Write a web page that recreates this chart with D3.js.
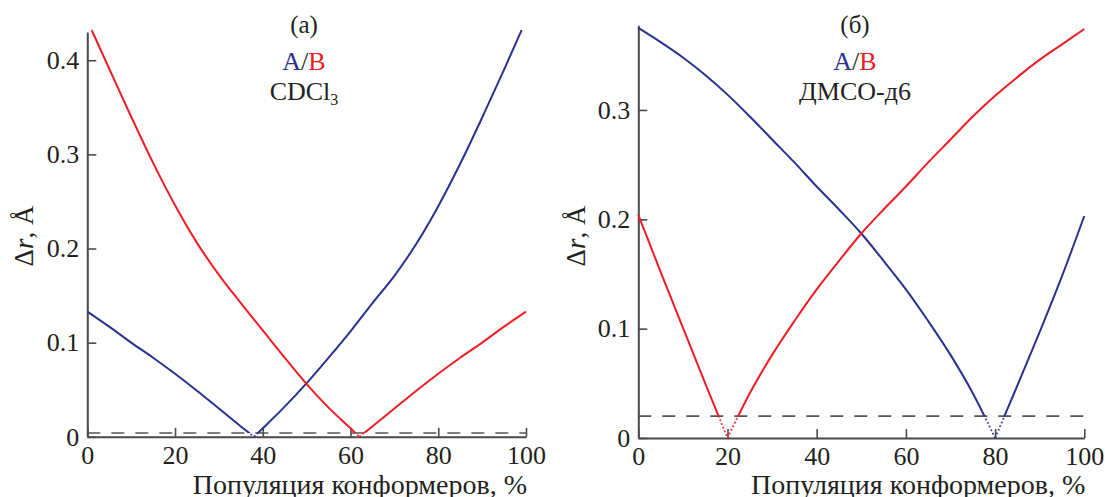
<!DOCTYPE html>
<html>
<head>
<meta charset="utf-8">
<script src="https://cdn.jsdelivr.net/npm/d3@7"></script>
<style>
  html, body { margin: 0; padding: 0; background: #fff; }
  svg { display: block; }
  svg text { font-family: "Liberation Serif", "Times New Roman", serif !important; }
</style>
</head>
<body>
<svg id="chart" width="1105" height="497"></svg>
<script>
// ---------- data ----------
// Panel (a) CDCl3
const popA_cdcl3 = [0, 5, 10, 15, 20, 25, 30, 35, 38, 40, 45, 50, 55, 60, 65, 70, 75, 80, 85, 90, 95, 99];
const valA_cdcl3 = [0.133, 0.117, 0.100, 0.084, 0.067, 0.049, 0.030, 0.011, 0.000, 0.009, 0.032, 0.057, 0.084, 0.112, 0.142, 0.171, 0.205, 0.245, 0.290, 0.339, 0.390, 0.432];
const popB_cdcl3 = [1, 5, 10, 15, 20, 25, 30, 35, 40, 45, 50, 55, 60, 62, 65, 70, 75, 80, 85, 90, 95, 100];
const valB_cdcl3 = [0.432, 0.391, 0.340, 0.291, 0.246, 0.206, 0.172, 0.142, 0.113, 0.084, 0.056, 0.031, 0.009, 0.000, 0.011, 0.030, 0.049, 0.067, 0.084, 0.100, 0.117, 0.133];
const threshold_cdcl3 = 0.004;

// Panel (б) DMSO-d6
const pop_dmso = [0, 5, 10, 15, 20, 25, 30, 35, 40, 45, 50, 55, 60, 65, 70, 75, 80, 85, 90, 95, 100];
const valA_dmso = [0.375, 0.362, 0.348, 0.332, 0.314, 0.294, 0.273, 0.252, 0.230, 0.209, 0.187, 0.162, 0.136, 0.107, 0.076, 0.041, 0.000, 0.048, 0.097, 0.148, 0.203];
const valB_dmso = [0.204, 0.152, 0.101, 0.050, 0.000, 0.041, 0.076, 0.107, 0.136, 0.162, 0.187, 0.209, 0.230, 0.252, 0.273, 0.294, 0.313, 0.330, 0.346, 0.360, 0.374];
const threshold_dmso = 0.02;

const xTicks = [0, 20, 40, 60, 80, 100];
const yTicks_cdcl3 = [0, 0.1, 0.2, 0.3, 0.4];
const yTicks_dmso = [0, 0.1, 0.2, 0.3];
const xLabel = "Популяция конформеров, %";
const panelTitles = ["(a)", "(б)"];
const solvents = ["CDCl", "ДМСО-д6"];

// ---------- style ----------
const BLUE = "#2b3190";
const RED = "#ee1d26";
const AXIS = "#4a4a4a";
const TXT = "#231f20";
const FONT = "'Liberation Serif', 'Times New Roman', serif";

const svg = d3.select("#chart");

function panel(cfg) {
  const x = d3.scaleLinear().domain([0, 100]).range(cfg.xr);
  const y = d3.scaleLinear().domain([0, cfg.ymax]).range(cfg.yr);
  const g = svg.append("g").attr("font-family", FONT);
  const id = cfg.id;

  // clip paths: above / below threshold
  const defs = svg.append("defs");
  defs.append("clipPath").attr("id", id + "-above").append("rect")
    .attr("x", cfg.xr[0] - 5).attr("width", cfg.xr[1] - cfg.xr[0] + 10)
    .attr("y", 0).attr("height", y(cfg.threshold));
  defs.append("clipPath").attr("id", id + "-below").append("rect")
    .attr("x", cfg.xr[0] - 5).attr("width", cfg.xr[1] - cfg.xr[0] + 10)
    .attr("y", y(cfg.threshold)).attr("height", 40);

  // dashed threshold line
  g.append("line")
    .attr("x1", x(0)).attr("x2", x(100))
    .attr("y1", y(cfg.threshold)).attr("y2", y(cfg.threshold))
    .attr("stroke", "#555").attr("stroke-width", 1.6)
    .attr("stroke-dasharray", "13,11");

  // axes
  const xAxis = d3.axisBottom(x).tickValues(xTicks).tickSize(-9).tickSizeOuter(0).tickPadding(9)
    .tickFormat(d3.format("d"));
  const yAxis = d3.axisLeft(y).tickValues(cfg.yTicks).tickSize(-9).tickSizeOuter(0).tickPadding(8)
    .tickFormat(d => d === 0 ? "0" : d3.format(".1f")(d));

  const gx = g.append("g").attr("transform", `translate(0,${y(0)})`).call(xAxis);
  const gy = g.append("g").attr("transform", `translate(${x(0)},0)`).call(yAxis);
  [gx, gy].forEach(a => {
    a.attr("font-family", FONT).attr("font-size", 26);
    a.select(".domain").attr("stroke", AXIS).attr("stroke-width", 2);
    a.selectAll(".tick line").attr("stroke", AXIS).attr("stroke-width", 1.6);
    a.selectAll(".tick text").attr("fill", TXT);
  });

  // lines: split each series at its minimum so the V stays sharp
  const line = d3.line().x(d => x(d[0])).y(d => y(d[1])).curve(d3.curveMonotoneX);
  cfg.series.forEach(s => {
    const pts = d3.zip(s.x, s.y);
    const iMin = d3.minIndex(s.y);
    const parts = [pts.slice(0, iMin + 1), pts.slice(iMin)].filter(p => p.length > 1);
    parts.forEach(p => {
      g.append("path").datum(p).attr("d", line)
        .attr("fill", "none").attr("stroke", s.color).attr("stroke-width", 2)
        .attr("stroke-linejoin", "round")
        .attr("clip-path", `url(#${id}-above)`);
      g.append("path").datum(p).attr("d", line)
        .attr("fill", "none").attr("stroke", s.color).attr("stroke-width", 1.8)
        .attr("stroke-dasharray", "2,2").attr("opacity", 0.85)
        .attr("clip-path", `url(#${id}-below)`);
    });
  });

  // x label
  g.append("text").attr("x", x(100) + 1).attr("y", 494).attr("text-anchor", "end")
    .attr("fill", TXT).attr("font-size", 28).text(xLabel);

  // y label
  const yl = g.append("text")
    .attr("transform", `translate(${cfg.ylabX},236) rotate(-90)`)
    .attr("text-anchor", "middle").attr("fill", TXT).attr("font-size", 27);
  yl.append("tspan").text("Δ");
  yl.append("tspan").attr("font-style", "italic").text("r");
  yl.append("tspan").text(", Å");

  // titles
  const cx = cfg.titleX;
  g.append("text").attr("x", cx).attr("y", 33).attr("text-anchor", "middle")
    .attr("fill", TXT).attr("font-size", 25).text(cfg.title);
  const ab = g.append("text").attr("x", cx).attr("y", 70).attr("text-anchor", "middle")
    .attr("font-size", 26);
  ab.append("tspan").attr("fill", BLUE).text("A");
  ab.append("tspan").attr("fill", TXT).text("/");
  ab.append("tspan").attr("fill", RED).text("B");
  const sv = g.append("text").attr("x", cx).attr("y", 100).attr("text-anchor", "middle")
    .attr("fill", TXT).attr("font-size", 26);
  sv.append("tspan").text(cfg.solvent);
  if (cfg.sub) sv.append("tspan").attr("dy", 5).attr("font-size", 16).text(cfg.sub);
}

panel({
  id: "pa", xr: [87.3, 526], yr: [436.8, 32], ymax: 0.43,
  yTicks: yTicks_cdcl3, threshold: threshold_cdcl3,
  ylabX: 33, titleX: 304, title: panelTitles[0], solvent: solvents[0], sub: "3",
  series: [
    { x: popA_cdcl3, y: valA_cdcl3, color: BLUE },
    { x: popB_cdcl3, y: valB_cdcl3, color: RED }
  ]
});

panel({
  id: "pb", xr: [638.3, 1084.3], yr: [438, 25.2], ymax: 0.3775,
  yTicks: yTicks_dmso, threshold: threshold_dmso,
  ylabX: 585, titleX: 855, title: panelTitles[1], solvent: solvents[1], sub: null,
  series: [
    { x: pop_dmso, y: valA_dmso, color: BLUE },
    { x: pop_dmso, y: valB_dmso, color: RED }
  ]
});
</script>
</body>
</html>
